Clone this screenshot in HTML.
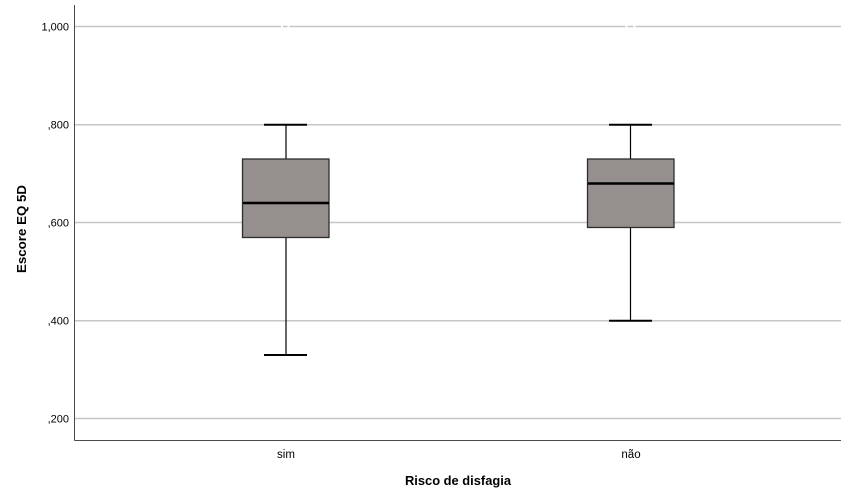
<!DOCTYPE html>
<html>
<head>
<meta charset="utf-8">
<style>
  html, body { margin: 0; padding: 0; background: #ffffff; }
  svg { display: block; }
  text { font-family: "Liberation Sans", Arial, sans-serif; fill: #000; }
</style>
</head>
<body>
<svg width="851" height="501" viewBox="0 0 851 501" xmlns="http://www.w3.org/2000/svg">
  <rect x="0" y="0" width="851" height="501" fill="#ffffff"/>

  <!-- gridlines -->
  <g stroke="#c6c6c6" stroke-width="1.5">
    <line x1="75" y1="26.5" x2="841" y2="26.5"/>
    <line x1="75" y1="124.7" x2="841" y2="124.7"/>
    <line x1="75" y1="222.5" x2="841" y2="222.5"/>
    <line x1="75" y1="320.7" x2="841" y2="320.7"/>
    <line x1="75" y1="418.5" x2="841" y2="418.5"/>
  </g>
  <!-- small white marks on top gridline -->
  <g fill="#ffffff">
    <rect x="281" y="25" width="2" height="3"/>
    <rect x="287.5" y="25" width="2" height="3"/>
    <rect x="625.5" y="25" width="2" height="3"/>
    <rect x="633.5" y="25" width="2" height="3"/>
  </g>

  <!-- axes -->
  <line x1="74.5" y1="5" x2="74.5" y2="440.5" stroke="#4a4a4a" stroke-width="1"/>
  <line x1="74.5" y1="440.5" x2="841" y2="440.5" stroke="#4a4a4a" stroke-width="1"/>

  <!-- y tick labels -->
  <g font-size="11" text-anchor="end">
    <text x="69" y="30.5">1,000</text>
    <text x="69" y="128.7">,800</text>
    <text x="69" y="226.5">,600</text>
    <text x="69" y="324.7">,400</text>
    <text x="69" y="422.5">,200</text>
  </g>

  <!-- x tick labels -->
  <text x="286" y="458" font-size="11.5" text-anchor="middle">sim</text>
  <text x="631" y="458" font-size="11.5" text-anchor="middle">não</text>

  <!-- axis titles -->
  <text x="458" y="485" font-size="12.5" font-weight="bold" text-anchor="middle" textLength="106" lengthAdjust="spacingAndGlyphs">Risco de disfagia</text>
  <text transform="translate(26,229) rotate(-90)" x="0" y="0" font-size="12.5" font-weight="bold" text-anchor="middle" textLength="88" lengthAdjust="spacingAndGlyphs">Escore EQ 5D</text>

  <!-- Box 1: sim -->
  <g stroke="#000" fill="none">
    <line x1="286" y1="124.7" x2="286" y2="159" stroke-width="1.2"/>
    <line x1="286" y1="237.5" x2="286" y2="355" stroke-width="1.2"/>
    <line x1="264" y1="124.7" x2="307" y2="124.7" stroke-width="2"/>
    <line x1="264" y1="355" x2="307" y2="355" stroke-width="2"/>
  </g>
  <rect x="242.5" y="159" width="86.5" height="78.5" fill="#958f8e" stroke="#2e2e2e" stroke-width="1.3"/>
  <line x1="243" y1="203" x2="329" y2="203" stroke="#000" stroke-width="2.6"/>

  <!-- Box 2: não -->
  <g stroke="#000" fill="none">
    <line x1="630.5" y1="124.7" x2="630.5" y2="159" stroke-width="1.2"/>
    <line x1="630.5" y1="227.5" x2="630.5" y2="320.7" stroke-width="1.2"/>
    <line x1="609" y1="124.7" x2="652" y2="124.7" stroke-width="2"/>
    <line x1="609" y1="320.7" x2="652" y2="320.7" stroke-width="2"/>
  </g>
  <rect x="587.5" y="159" width="86.5" height="68.5" fill="#958f8e" stroke="#2e2e2e" stroke-width="1.3"/>
  <line x1="588" y1="183.5" x2="674" y2="183.5" stroke="#000" stroke-width="2.6"/>
</svg>
</body>
</html>
